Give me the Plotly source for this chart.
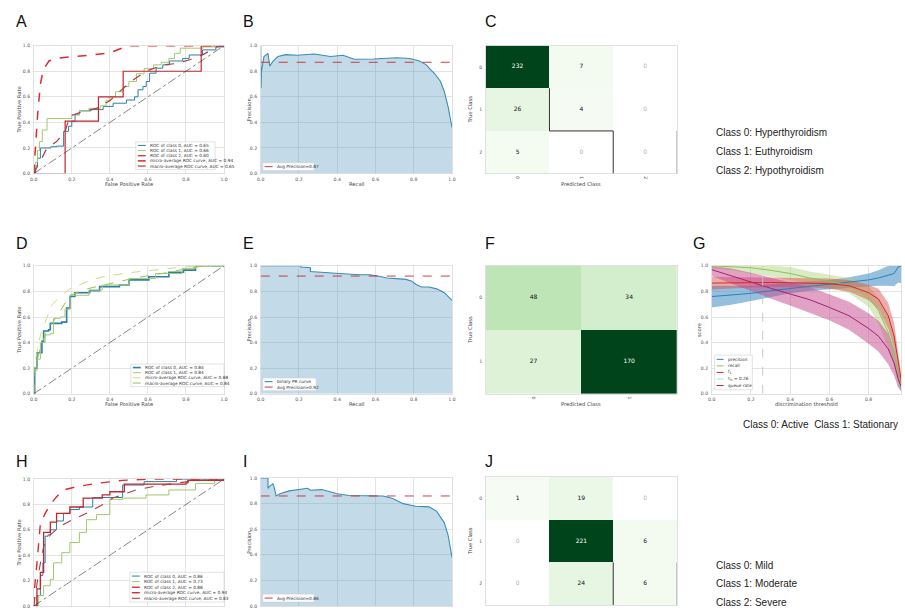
import plotly.graph_objects as go

W, H = 905, 611

# ---------------- data ----------------
ROC_TICKS = [0.0, 0.2, 0.4, 0.6, 0.8, 1.0]

# Panel A (multiclass ROC)
A_C0_FPR = [0, 0.01, 0.02, 0.035, 0.09, 0.12, 0.157, 0.183, 0.2, 0.217, 0.24, 0.3, 0.365, 0.417, 0.487, 0.53, 0.548, 0.574, 0.591, 0.609, 0.643, 0.678, 0.713, 0.783, 0.817, 0.887, 0.957, 1.0]
A_C0_TPR = [0, 0.06, 0.12, 0.2, 0.21, 0.215, 0.33, 0.37, 0.41, 0.46, 0.49, 0.5, 0.525, 0.55, 0.575, 0.6, 0.655, 0.68, 0.72, 0.785, 0.824, 0.85, 0.88, 0.90, 0.927, 0.967, 0.99, 1.0]
A_C1_FPR = [0, 0.005, 0.01, 0.02, 0.03, 0.045, 0.07, 0.17, 0.2, 0.24, 0.29, 0.35, 0.38, 0.4, 0.43, 0.47, 0.5, 0.54, 0.58, 0.63, 0.67, 0.71, 0.74, 0.77, 0.83, 0.89, 0.95, 1.0]
A_C1_TPR = [0, 0.05, 0.09, 0.18, 0.25, 0.34, 0.43, 0.43, 0.46, 0.49, 0.51, 0.53, 0.57, 0.6, 0.64, 0.68, 0.72, 0.78, 0.82, 0.85, 0.87, 0.9, 0.94, 0.98, 0.98, 0.99, 1.0, 1.0]
A_C2_FPR = [0, 0.165, 0.34, 0.47, 0.88, 1.0]
A_C2_TPR = [0, 0.41, 0.6, 0.8, 1.0, 1.0]
A_MICRO_FPR = [0, 0.01, 0.02, 0.035, 0.05, 0.08, 0.12, 0.2, 0.3, 0.4, 0.47, 0.5, 1.0]
A_MICRO_TPR = [0, 0.25, 0.45, 0.7, 0.81, 0.88, 0.9, 0.915, 0.925, 0.945, 0.985, 1.0, 1.0]
A_MACRO_FPR = [0, 0.02, 0.07, 0.12, 0.165, 0.19, 0.25, 0.33, 0.4, 0.45, 0.52, 0.59, 0.68, 0.75, 0.82, 0.89, 0.96, 1.0]
A_MACRO_TPR = [0, 0.06, 0.2, 0.25, 0.33, 0.45, 0.48, 0.51, 0.57, 0.64, 0.73, 0.8, 0.85, 0.86, 0.89, 0.93, 0.99, 1.0]
A_LEGEND = ["ROC of class 0, AUC = 0.65", "ROC of class 1, AUC = 0.66", "ROC of class 2, AUC = 0.60",
            "micro-average ROC curve, AUC = 0.94", "macro-average ROC curve, AUC = 0.65"]

# Panel B (PR curve)
B_RECALL = [0, 0.002, 0.004, 0.017, 0.038, 0.047, 0.065, 0.09, 0.13, 0.19, 0.28, 0.365, 0.43, 0.49, 0.59, 0.71, 0.78, 0.83, 0.866, 0.883, 0.91, 0.94, 0.96, 0.98, 1.0]
B_PREC = [1.0, 0.67, 0.80, 0.915, 0.94, 0.84, 0.88, 0.915, 0.93, 0.925, 0.935, 0.915, 0.925, 0.894, 0.895, 0.905, 0.9, 0.88, 0.85, 0.82, 0.78, 0.72, 0.64, 0.52, 0.36]
B_AP = 0.87

# Panel C (confusion matrix, thyroid)
C_Z = [[232, 7, 0], [26, 4, 0], [5, 0, 0]]
CM3_LABELS = ["0", "1", "2"]

# Panel D (binary ROC)
D_C0_FPR = [0, 0.005, 0.017, 0.043, 0.052, 0.078, 0.087, 0.147, 0.173, 0.19, 0.216, 0.294, 0.346, 0.45, 0.5, 0.605, 0.71, 0.787, 0.85, 1.0]
D_C0_TPR = [0, 0.2, 0.32, 0.41, 0.49, 0.5, 0.55, 0.56, 0.67, 0.76, 0.79, 0.806, 0.837, 0.85, 0.89, 0.915, 0.95, 0.966, 1.0, 1.0]
D_C1_FPR = [0, 0.0, 0.017, 0.035, 0.06, 0.087, 0.104, 0.14, 0.164, 0.19, 0.29, 0.36, 0.5, 0.64, 0.78, 0.85, 1.0]
D_C1_TPR = [0, 0.18, 0.27, 0.4, 0.46, 0.47, 0.59, 0.6, 0.66, 0.77, 0.81, 0.85, 0.9, 0.94, 0.98, 1.0, 1.0]
D_MICRO_FPR = [0, 0.0, 0.035, 0.07, 0.095, 0.14, 0.19, 0.28, 0.363, 0.5, 0.64, 0.78, 0.88, 1.0]
D_MICRO_TPR = [0, 0.19, 0.46, 0.59, 0.695, 0.76, 0.82, 0.876, 0.915, 0.946, 0.97, 0.99, 1.0, 1.0]
D_MACRO_FPR = [0, 0.0, 0.035, 0.07, 0.12, 0.19, 0.28, 0.4, 0.535, 0.675, 0.81, 0.9, 1.0]
D_MACRO_TPR = [0, 0.16, 0.36, 0.5, 0.6, 0.77, 0.82, 0.86, 0.906, 0.94, 0.98, 1.0, 1.0]
D_LEGEND = ["ROC of class 0, AUC = 0.84", "ROC of class 1, AUC = 0.84",
            "micro-average ROC curve, AUC = 0.88", "macro-average ROC curve, AUC = 0.84"]

# Panel E (binary PR curve)
E_RECALL = [0, 0.21, 0.21, 0.26, 0.26, 0.365, 0.43, 0.52, 0.57, 0.62, 0.66, 0.71, 0.76, 0.79, 0.81, 0.84, 0.88, 0.92, 0.96, 1.0]
E_PREC = [1.0, 1.0, 0.99, 0.985, 0.956, 0.948, 0.938, 0.93, 0.93, 0.918, 0.905, 0.9, 0.894, 0.88, 0.856, 0.835, 0.835, 0.82, 0.79, 0.73]
E_AP = 0.92

# Panel F (confusion matrix, activity)
F_Z = [[48, 34], [27, 170]]
CM2_LABELS = ["0", "1"]

# Panel G (discrimination threshold)
G_T = [0.0, 0.1, 0.2, 0.3, 0.4, 0.5, 0.6, 0.7, 0.8, 0.85, 0.9, 0.93, 0.95, 0.97, 1.0]
G_PREC = [0.76, 0.77, 0.785, 0.805, 0.825, 0.84, 0.855, 0.87, 0.89, 0.905, 0.925, 0.94, 0.99, 1.0, 1.0]
G_PREC_SD = [0.085, 0.075, 0.06, 0.05, 0.04, 0.035, 0.035, 0.04, 0.05, 0.06, 0.08, 0.1, 0.12, 0.14, 0.15]
G_REC = [1.0, 0.995, 0.985, 0.965, 0.94, 0.905, 0.88, 0.845, 0.76, 0.65, 0.48, 0.33, 0.15, 0.03, 0.0]
G_REC_SD = [0.02, 0.03, 0.04, 0.05, 0.05, 0.05, 0.05, 0.06, 0.08, 0.1, 0.12, 0.12, 0.08, 0.03, 0.0]
G_F1 = [0.865, 0.868, 0.87, 0.87, 0.868, 0.865, 0.86, 0.845, 0.79, 0.74, 0.61, 0.45, 0.25, 0.07, 0.0]
G_F1_SD = [0.05, 0.045, 0.04, 0.035, 0.035, 0.035, 0.04, 0.045, 0.06, 0.08, 0.1, 0.1, 0.08, 0.04, 0.0]
G_QUEUE = [0.97, 0.92, 0.875, 0.825, 0.78, 0.735, 0.675, 0.61, 0.51, 0.45, 0.35, 0.24, 0.12, 0.04, 0.0]
G_QUEUE_SD = [0.05, 0.06, 0.07, 0.08, 0.09, 0.1, 0.1, 0.11, 0.12, 0.12, 0.12, 0.1, 0.07, 0.03, 0.0]
G_THRESH = 0.26
G_LEGEND = ["precision", "recall", "f<sub>1</sub>", "t<sub>f1</sub> = 0.26", "queue rate"]

# Panel H (multiclass ROC, severity)
H_C0_FPR = [0, 0.017, 0.035, 0.048, 0.06, 0.075, 0.087, 0.12, 0.156, 0.19, 0.24, 0.31, 0.467, 0.57, 0.58, 0.75, 1.0]
H_C0_TPR = [0, 0.083, 0.24, 0.34, 0.55, 0.56, 0.6, 0.67, 0.73, 0.76, 0.78, 0.855, 0.953, 0.953, 0.98, 1.0, 1.0]
H_C1_FPR = [0, 0.026, 0.052, 0.087, 0.104, 0.147, 0.19, 0.24, 0.277, 0.33, 0.4, 0.467, 0.59, 0.71, 0.85, 0.95, 1.0]
H_C1_TPR = [0, 0.083, 0.16, 0.21, 0.34, 0.42, 0.5, 0.58, 0.68, 0.72, 0.84, 0.85, 0.875, 0.914, 0.966, 0.99, 1.0]
H_C2_FPR = [0, 0.017, 0.035, 0.052, 0.087, 0.12, 0.19, 0.26, 0.36, 0.4, 0.476, 0.8, 0.81, 1.0]
H_C2_TPR = [0, 0.135, 0.265, 0.58, 0.66, 0.73, 0.78, 0.85, 0.875, 0.9, 0.96, 0.97, 0.99, 1.0]
H_MICRO_FPR = [0, 0.005, 0.017, 0.035, 0.06, 0.087, 0.12, 0.156, 0.225, 0.33, 0.467, 0.62, 1.0]
H_MICRO_TPR = [0, 0.15, 0.34, 0.65, 0.73, 0.8, 0.86, 0.914, 0.94, 0.966, 0.99, 1.0, 1.0]
H_MACRO_FPR = [0, 0.026, 0.052, 0.087, 0.14, 0.19, 0.277, 0.363, 0.415, 0.536, 0.64, 0.81, 0.97, 1.0]
H_MACRO_TPR = [0, 0.265, 0.47, 0.56, 0.63, 0.67, 0.73, 0.8, 0.85, 0.914, 0.945, 0.98, 1.0, 1.0]
H_LEGEND = ["ROC of class 0, AUC = 0.86", "ROC of class 1, AUC = 0.73", "ROC of class 2, AUC = 0.88",
            "micro-average ROC curve, AUC = 0.94", "macro-average ROC curve, AUC = 0.83"]

# Panel I (PR curve)
I_RECALL = [0, 0.038, 0.038, 0.045, 0.064, 0.072, 0.08, 0.1, 0.15, 0.245, 0.26, 0.32, 0.4, 0.46, 0.64, 0.69, 0.745, 0.81, 0.88, 0.92, 0.96, 0.98, 1.0]
I_PREC = [1.0, 1.0, 0.92, 0.935, 0.955, 0.92, 0.86, 0.877, 0.9, 0.92, 0.905, 0.91, 0.877, 0.864, 0.86, 0.84, 0.8, 0.78, 0.775, 0.74, 0.65, 0.55, 0.38]
I_AP = 0.86

# Panel J (confusion matrix, severity)
J_Z = [[1, 19, 0], [0, 221, 6], [0, 24, 6]]

THYROID_CLASSES = ["Class 0: Hyperthyroidism", "Class 1: Euthyroidism", "Class 2: Hypothyroidism"]
ACTIVITY_CLASSES = "Class 0: Active  Class 1: Stationary"
SEVERITY_CLASSES = ["Class 0: Mild", "Class 1: Moderate", "Class 2: Severe"]
PANEL_LETTERS = ["A", "B", "C", "D", "E", "F", "G", "H", "I", "J"]

# ---------------- styles ----------------
TEAL = "#2e7fa6"
LGREEN = "#a2c96c"
RED = "#c4262e"
MICRO_RED = "#dd2a2a"
MACRO_RED = "#b23a44"
D_MICRO = "#d6d77c"
D_MACRO = "#98c05c"
PR_LINE = "#3a8db5"
PR_FILL = "rgba(78,148,188,0.34)"
AP_RED = "#c82a2e"
GRID = "#d9d9d9"
FRAME = "#d4d4d4"
TICKFONT = dict(family="DejaVu Sans", size=4.6, color="#555555")
TITLEFONT = dict(family="DejaVu Sans", size=5.2, color="#444444")
GREENS = [[0, "#ffffff"], [0.0001, "#f7fcf5"], [0.125, "#e5f5e0"], [0.25, "#c7e9c0"],
          [0.375, "#a1d99b"], [0.5, "#74c476"], [0.625, "#41ab5d"], [0.75, "#238b45"],
          [0.875, "#006d2c"], [1, "#00441b"]]

fig = go.Figure()
shapes = []
annotations = []


def PX(x):
    return x / W


def PY(y):
    return 1 - y / H


def ref(k, n):
    return k + ("" if n == 1 else str(n))


def axname(k, n):
    return k + "axis" + ("" if n == 1 else str(n))


def make_axes(n, x0, x1, y0, y1, xrange, yrange, xticks, yticks, grid=True,
              xticktext=None, yticktext=None, xtickangle=0, numeric=True, xlabels=True):
    xa = dict(domain=[PX(x0), PX(x1)], range=xrange, anchor=ref("y", n),
              tickvals=xticks, showgrid=grid, gridcolor=GRID, gridwidth=0.7,
              zeroline=False, showline=True, linecolor=FRAME, linewidth=0.7, mirror=True,
              ticks="", tickfont=TICKFONT, tickangle=xtickangle, ticklabelstandoff=1,
              showticklabels=xlabels, fixedrange=True)
    ya = dict(domain=[PY(y1), PY(y0)], range=yrange, anchor=ref("x", n),
              tickvals=yticks, showgrid=grid, gridcolor=GRID, gridwidth=0.7,
              zeroline=False, showline=True, linecolor=FRAME, linewidth=0.7, mirror=True,
              ticks="", tickfont=TICKFONT, ticklabelstandoff=2, fixedrange=True)
    if numeric:
        xa["tickformat"] = ".1f"
        ya["tickformat"] = ".1f"
    if xticktext is not None:
        xa["ticktext"] = xticktext
    if yticktext is not None:
        ya["ticktext"] = yticktext
    fig.update_layout(**{axname("x", n): xa, axname("y", n): ya})


def line(n, x, y, color, width=1.0, dash="solid", shape="linear"):
    fig.add_trace(go.Scatter(x=x, y=y, mode="lines", xaxis=ref("x", n), yaxis=ref("y", n),
                             line=dict(color=color, width=width, dash=dash, shape=shape),
                             hoverinfo="skip", showlegend=False))


def axis_title(text, x, y, angle=0, font=TITLEFONT):
    annotations.append(dict(text=text, x=PX(x), y=PY(y), xref="paper", yref="paper",
                            showarrow=False, textangle=angle, font=font,
                            xanchor="center", yanchor="middle"))


def legend_box(entries, left, top, row_h, width, line_len=8, font_size=4.3):
    height = row_h * len(entries) + 2
    shapes.append(dict(type="rect", xref="paper", yref="paper", x0=PX(left), x1=PX(left + width),
                       y0=PY(top + height), y1=PY(top), fillcolor="rgba(255,255,255,0.92)",
                       line=dict(color="#d0d0d0", width=0.6), layer="above"))
    for i, (label, color, dash, lw) in enumerate(entries):
        cy = top + 1 + row_h * (i + 0.5)
        shapes.append(dict(type="line", xref="paper", yref="paper",
                           x0=PX(left + 2), x1=PX(left + 2 + line_len), y0=PY(cy), y1=PY(cy),
                           line=dict(color=color, width=lw, dash=dash), layer="above"))
        annotations.append(dict(text=label, x=PX(left + 4 + line_len), y=PY(cy), xref="paper",
                                yref="paper", showarrow=False, xanchor="left", yanchor="middle",
                                font=dict(family="DejaVu Sans", size=font_size, color="#333333")))


def roc_panel(n, box, curves, legend_labels, legend_pos, xlabel=True):
    x0, x1, y0, y1 = box
    make_axes(n, x0, x1, y0, y1, [0, 1], [0, 1], ROC_TICKS, ROC_TICKS, xlabels=xlabel)
    entries = []
    for (fx, ty, color, width, dash, shape), lab in zip(curves, legend_labels):
        line(n, fx, ty, color, width, dash, shape)
        entries.append((lab, color, dash, width))
    line(n, [0, 1], [0, 1], "#333333", 0.6, "dashdot")
    axis_title("True Positive Rate", 15, (y0 + y1) / 2, -90)
    if xlabel:
        axis_title("False Positive Rate", (x0 + x1) / 2, y1 + 10)
    left, top, row_h, width = legend_pos
    legend_box(entries, left, top, row_h, width)


def pr_panel(n, box, recall, prec, ap, legend_entries, legend_pos, xlabel=True):
    x0, x1, y0, y1 = box
    make_axes(n, x0, x1, y0, y1, [0, 1], [0, 1], ROC_TICKS, ROC_TICKS, xlabels=xlabel)
    fig.add_trace(go.Scatter(x=recall, y=prec, mode="lines", fill="tozeroy", fillcolor=PR_FILL,
                             line=dict(color=PR_LINE, width=1.1), xaxis=ref("x", n),
                             yaxis=ref("y", n), hoverinfo="skip", showlegend=False))
    line(n, [0, 1], [ap, ap], AP_RED, 0.9, "dash")
    axis_title("Precision", 247, (y0 + y1) / 2, -90)
    if xlabel:
        axis_title("Recall", (x0 + x1) / 2, y1 + 10)
    left, top, row_h, width = legend_pos
    legend_box(legend_entries, left, top, row_h, width)


def cm_panel(n, box, z, labels, xlabel=True):
    x0, x1, y0, y1 = box
    k = len(labels)
    idx = list(range(k))
    zmax = max(max(r) for r in z)
    make_axes(n, x0, x1, y0, y1, [-0.5, k - 0.5], [k - 0.5, -0.5], idx, idx, grid=False,
              xticktext=labels, yticktext=labels, xtickangle=90, numeric=False, xlabels=xlabel)
    fig.add_trace(go.Heatmap(z=z, x=idx, y=idx, colorscale=GREENS, zmin=0, zmax=zmax,
                             showscale=False, xgap=0, ygap=0, hoverinfo="skip",
                             xaxis=ref("x", n), yaxis=ref("y", n)))
    tx, ty, tt, tc = [], [], [], []
    for r in range(k):
        for c in range(k):
            v = z[r][c]
            tx.append(c)
            ty.append(r)
            tt.append(str(v))
            tc.append("#ffffff" if v > zmax * 0.6 else ("#b0b0b0" if v == 0 else "#111111"))
    fig.add_trace(go.Scatter(x=tx, y=ty, mode="text", text=tt,
                             textfont=dict(family="DejaVu Sans", size=6, color=tc),
                             xaxis=ref("x", n), yaxis=ref("y", n), hoverinfo="skip",
                             showlegend=False))
    axis_title("True Class", 470, (y0 + y1) / 2, -90)
    if xlabel:
        axis_title("Predicted Class", (x0 + x1) / 2, y1 + 10)


# ---------------- panels ----------------
BOX_A = (30, 222, 44, 173)
BOX_B = (259, 452, 44, 173)
BOX_C = (486, 679, 44, 173)
BOX_D = (30, 222, 266, 395)
BOX_E = (259, 452, 266, 395)
BOX_F = (486, 679, 266, 395)
BOX_G = (714, 905, 266, 395)
BOX_H = (30, 222, 481, 609)
BOX_I = (259, 452, 480, 609)
BOX_J = (486, 679, 479, 608)

roc_panel(1, BOX_A, [
    (A_C0_FPR, A_C0_TPR, TEAL, 1.0, "solid", "hv"),
    (A_C1_FPR, A_C1_TPR, LGREEN, 1.0, "solid", "hv"),
    (A_C2_FPR, A_C2_TPR, RED, 1.2, "solid", "hv"),
    (A_MICRO_FPR, A_MICRO_TPR, MICRO_RED, 1.5, "dash", "linear"),
    (A_MACRO_FPR, A_MACRO_TPR, MACRO_RED, 1.2, "dash", "linear"),
], A_LEGEND, (133, 141, 5.2, 80))

pr_panel(2, BOX_B, B_RECALL, B_PREC, B_AP,
         [("Avg Precision=%.2f" % B_AP, AP_RED, "dash", 0.9)], (261, 162, 6, 52))

cm_panel(3, BOX_C, C_Z, CM3_LABELS)
STEP_LINES_C = [((0.5, 0.5), (0.5, 1.5)), ((0.5, 1.5), (1.5, 1.5)), ((1.5, 1.5), (1.5, 2.5))]
for (a, b) in STEP_LINES_C:
    shapes.append(dict(type="line", xref="x3", yref="y3", x0=a[0], y0=a[1], x1=b[0], y1=b[1],
                       line=dict(color="#333333", width=1), layer="above"))
shapes.append(dict(type="line", xref="x3", yref="y3", x0=2.5, y0=1.5, x1=2.5, y1=2.5,
                   line=dict(color="#9a9a9a", width=1), layer="above"))

roc_panel(4, BOX_D, [
    (D_C0_FPR, D_C0_TPR, TEAL, 1.6, "solid", "hv"),
    (D_C1_FPR, D_C1_TPR, LGREEN, 1.0, "solid", "hv"),
    (D_MICRO_FPR, D_MICRO_TPR, D_MICRO, 1.0, "dash", "linear"),
    (D_MACRO_FPR, D_MACRO_TPR, D_MACRO, 1.0, "dash", "linear"),
], D_LEGEND, (128, 365, 5.2, 94))

pr_panel(5, BOX_E, E_RECALL, E_PREC, E_AP,
         [("binary PR curve", PR_LINE, "solid", 1.1),
          ("Avg Precision=%.2f" % E_AP, AP_RED, "dash", 0.9)], (261, 379, 5.5, 54))

cm_panel(6, BOX_F, F_Z, CM2_LABELS)

# Panel G
make_axes(7, BOX_G[0], BOX_G[1], BOX_G[2], BOX_G[3], [0, 0.965], [0, 1],
          [0.0, 0.2, 0.4, 0.6, 0.8], ROC_TICKS)
G_SERIES = [
    (G_PREC, G_PREC_SD, "#2f7db5", "rgba(60,140,195,0.55)"),
    (G_REC, G_REC_SD, "#8fbf5c", "rgba(170,210,120,0.45)"),
    (G_F1, G_F1_SD, "#d42a2a", "rgba(215,70,70,0.45)"),
    (G_QUEUE, G_QUEUE_SD, "#a3246c", "rgba(195,70,140,0.5)"),
]
for mean, sd, col, band in G_SERIES:
    upper = [min(1.0, m + s) for m, s in zip(mean, sd)]
    lower = [max(0.0, m - s) for m, s in zip(mean, sd)]
    fig.add_trace(go.Scatter(x=G_T + G_T[::-1], y=upper + lower[::-1], mode="lines",
                             fill="toself", fillcolor=band, line=dict(width=0),
                             xaxis="x7", yaxis="y7", hoverinfo="skip", showlegend=False))
for mean, sd, col, band in G_SERIES:
    line(7, G_T, mean, col, 1.0, "solid")
line(7, [G_THRESH, G_THRESH], [0, 1], "#b9c6d3", 0.9, "dash")
axis_title("score", 701, 331, -90)
axis_title("discrimination threshold", 810, 405)
legend_box([(G_LEGEND[0], "#2f7db5", "solid", 1.0), (G_LEGEND[1], "#8fbf5c", "solid", 1.0),
            (G_LEGEND[2], "#d42a2a", "solid", 1.0), (G_LEGEND[3], "#b9c6d3", "dash", 0.9),
            (G_LEGEND[4], "#a3246c", "solid", 1.0)], 717, 356, 6.6, 38, line_len=7)

roc_panel(8, BOX_H, [
    (H_C0_FPR, H_C0_TPR, TEAL, 1.0, "solid", "hv"),
    (H_C1_FPR, H_C1_TPR, LGREEN, 1.0, "solid", "hv"),
    (H_C2_FPR, H_C2_TPR, RED, 1.3, "solid", "hv"),
    (H_MICRO_FPR, H_MICRO_TPR, MICRO_RED, 1.4, "dash", "linear"),
    (H_MACRO_FPR, H_MACRO_TPR, MACRO_RED, 1.1, "dash", "linear"),
], H_LEGEND, (127, 575, 5.6, 95), xlabel=False)

pr_panel(9, BOX_I, I_RECALL, I_PREC, I_AP,
         [("Avg Precision=%.2f" % I_AP, AP_RED, "dash", 0.9)], (261, 597, 6, 52), xlabel=False)

cm_panel(10, BOX_J, J_Z, CM3_LABELS, xlabel=False)
STEP_LINES_J = [((1.5, 1.5), (1.5, 2.5))]
for (a, b) in STEP_LINES_J:
    shapes.append(dict(type="line", xref="x10", yref="y10", x0=a[0], y0=a[1], x1=b[0], y1=b[1],
                       line=dict(color="#333333", width=1), layer="above"))
shapes.append(dict(type="line", xref="x10", yref="y10", x0=2.5, y0=1.5, x1=2.5, y1=2.5,
                   line=dict(color="#9a9a9a", width=1), layer="above"))

# ---------------- panel letters & class descriptions ----------------
LETTER_POS = [(10, 20), (239, 20), (483, 20), (10, 243), (239, 243), (483, 243), (693, 243),
              (10, 463), (239, 463), (483, 463)]
for letter, (lx, ly) in zip(PANEL_LETTERS, LETTER_POS):
    annotations.append(dict(text=letter, x=PX(lx), y=PY(ly), xref="paper", yref="paper",
                            showarrow=False, xanchor="left", yanchor="middle",
                            font=dict(family="Liberation Sans", size=16, color="#111111")))

CLASS_FONT = dict(family="Liberation Sans", size=10, color="#222222")
for i, t in enumerate(THYROID_CLASSES):
    annotations.append(dict(text=t, x=PX(716), y=PY(131.5 + 19 * i), xref="paper", yref="paper",
                            showarrow=False, xanchor="left", yanchor="middle", font=CLASS_FONT))
annotations.append(dict(text=ACTIVITY_CLASSES.replace("  ", "&nbsp;&nbsp;"), x=PX(744), y=PY(426),
                        xref="paper", yref="paper", showarrow=False, xanchor="left",
                        yanchor="middle", font=dict(family="Liberation Sans", size=10,
                                                    color="#222222")))
for i, t in enumerate(SEVERITY_CLASSES):
    annotations.append(dict(text=t, x=PX(716), y=PY(568 + 18.5 * i), xref="paper", yref="paper",
                            showarrow=False, xanchor="left", yanchor="middle", font=CLASS_FONT))

fig.update_layout(width=W, height=H, margin=dict(l=0, r=0, t=0, b=0), autosize=False,
                  paper_bgcolor="white", plot_bgcolor="white", showlegend=False,
                  shapes=shapes, annotations=annotations)

fig.write_html("out.html", config={"displayModeBar": False, "staticPlot": True},
               post_script="document.body.style.margin='0';document.body.style.overflow='hidden';")
